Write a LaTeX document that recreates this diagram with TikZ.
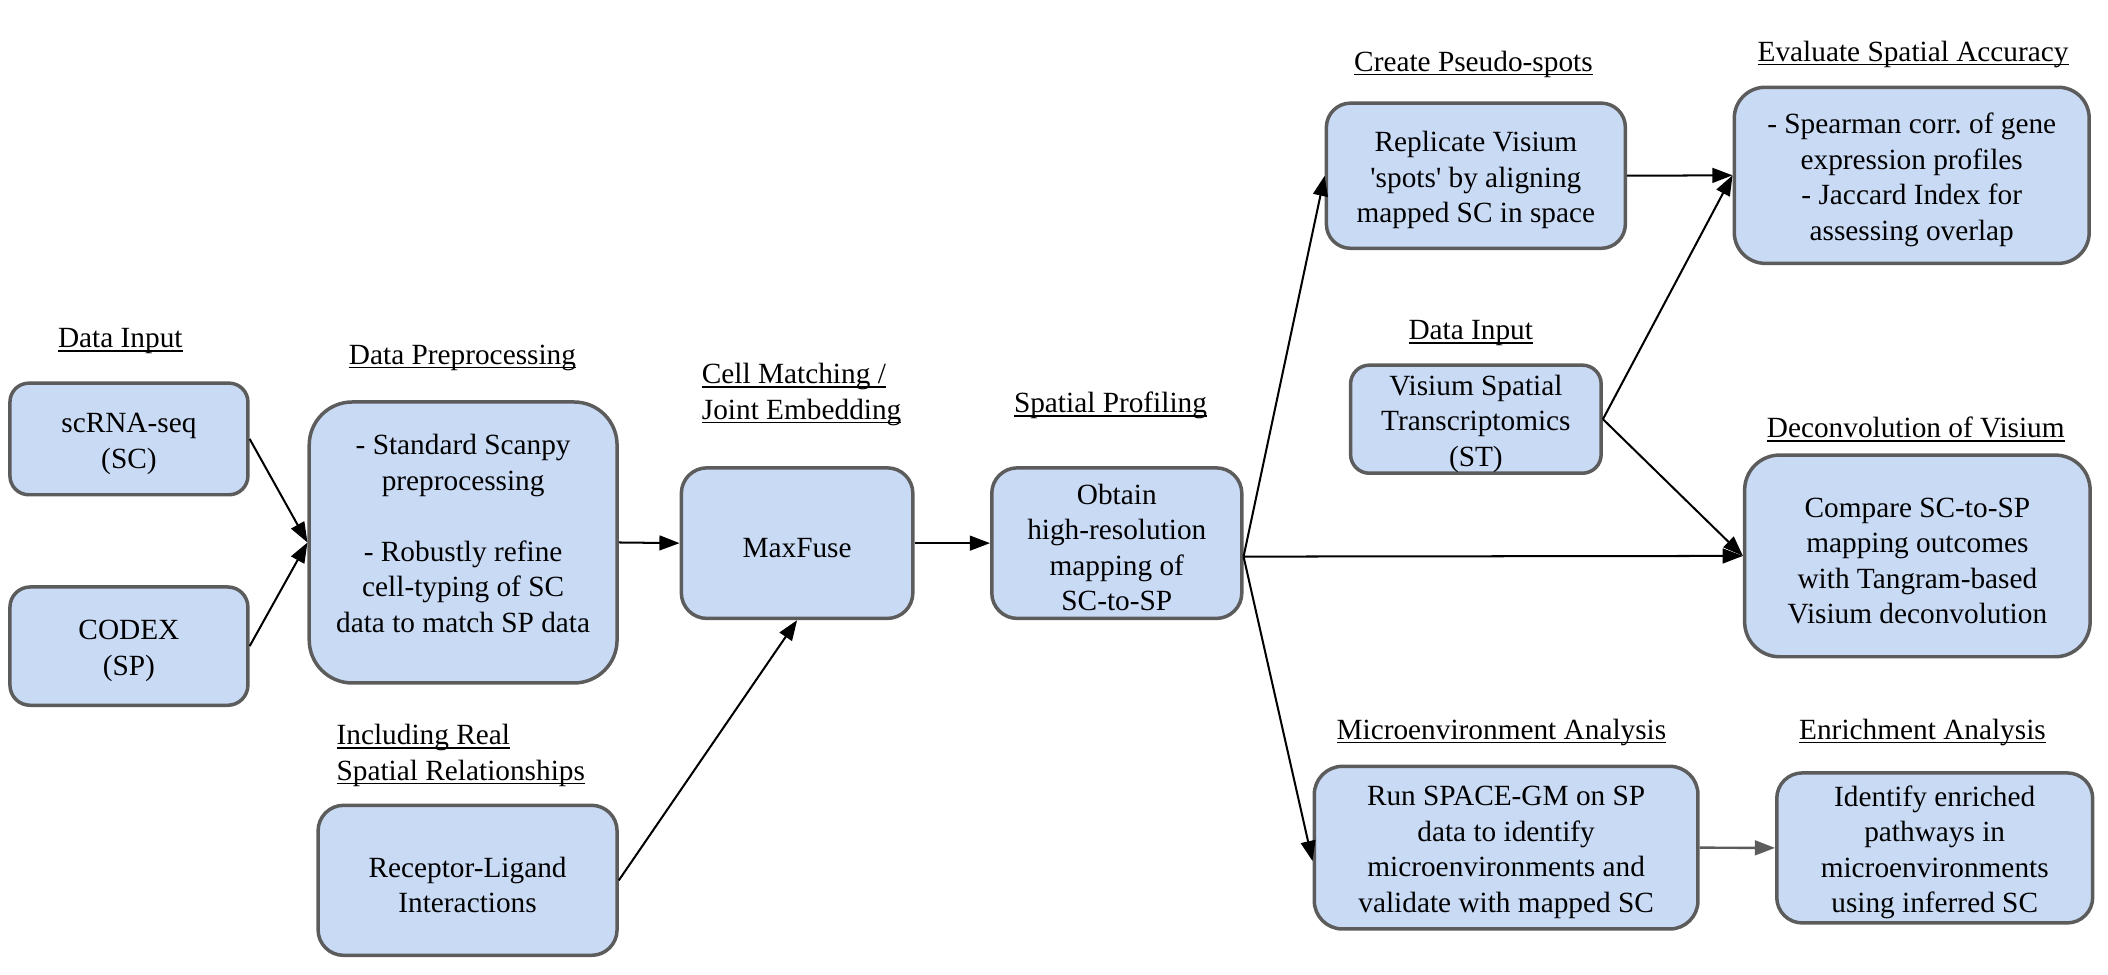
\documentclass[tikz,border=0pt]{standalone}
\usepackage{fontspec}
\setmainfont{Liberation Serif}
\usetikzlibrary{arrows.meta}
\definecolor{boxblue}{HTML}{C9DAF5}
\definecolor{edgegray}{HTML}{5C5C5C}
\newcommand\myul[1]{\setbox0\hbox{#1}\rlap{\rule[-1.5pt]{\wd0}{0.55pt}}\box0}
\newcommand\dfont{\fontsize{10.9}{13.2}\selectfont\frenchspacing}
\newcommand\tp{\rule{0pt}{10.9pt}}
\begin{document}
\begin{tikzpicture}[x=0.5pt,y=-0.5pt,
  box/.style={draw=edgegray, line width=1.3pt, fill=boxblue, align=center, font=\dfont, inner sep=0pt},
  lbl/.style={font=\dfont, inner sep=0pt, anchor=base},
  lbll/.style={font=\dfont, inner sep=0pt, align=left, anchor=north west},
  arr/.style={-{Triangle[length=7.5pt,width=5.5pt]}, line width=0.75pt, black},
  garr/.style={-{Triangle[length=7.5pt,width=5.5pt]}, line width=0.9pt, edgegray}]
\useasboundingbox (0,0) rectangle (1568,724.5);

% boxes
\node[box, minimum width=88.5pt, minimum height=41.5pt, rounded corners=7pt] (sc) at (95.9,326.5) {\tp scRNA-seq\\(SC)};
\node[box, minimum width=88.5pt, minimum height=44pt, rounded corners=7.5pt] (codex) at (95.9,480.6) {\tp CODEX\\(SP)};
\node[box, minimum width=114.5pt, minimum height=104.5pt, rounded corners=16pt] (pre) at (344.5,403.5) {\tp - Standard Scanpy\\preprocessing\\[13.2pt]- Robustly refine\\cell-typing of SC\\data to match SP data\rule[-10.3pt]{0pt}{1pt}};
\node[box, minimum width=111.2pt, minimum height=55.8pt, rounded corners=9.5pt] (rl) at (347.8,654.8) {\tp Receptor-Ligand\\Interactions};
\node[box, minimum width=86.1pt, minimum height=56pt, rounded corners=9.5pt] (mf) at (592.9,404) {\tp MaxFuse};
\node[box, minimum width=93pt, minimum height=56pt, rounded corners=9.5pt] (ob) at (830.7,404) {\tp Obtain\\high-resolution\\mapping of\\SC-to-SP};
\node[box, minimum width=111.2pt, minimum height=54pt, rounded corners=9pt] (rep) at (1097.8,130.7) {\tp Replicate Visium\\\textquotesingle spots\textquotesingle{} by aligning\\mapped SC in space};
\node[box, minimum width=132pt, minimum height=65.5pt, rounded corners=11.5pt] (sp) at (1422,130.4) {\tp - Spearman corr. of gene\\expression profiles\\- Jaccard Index for\\assessing overlap};
\node[box, minimum width=93.2pt, minimum height=40.2pt, rounded corners=7pt] (vis) at (1097.8,311.8) {\tp Visium Spatial\\Transcriptomics\\(ST)};
\node[box, minimum width=128.5pt, minimum height=75pt, rounded corners=13pt] (cmp) at (1426.2,413.5) {\tp Compare SC-to-SP\\mapping outcomes\\with Tangram-based\\Visium deconvolution};
\node[box, minimum width=142.7pt, minimum height=60.5pt, rounded corners=10.5pt] (sg) at (1120.3,630.5) {\tp Run SPACE-GM on SP\\data to identify\\microenvironments and\\validate with mapped SC};
\node[box, minimum width=117.5pt, minimum height=55.8pt, rounded corners=9.5pt] (en) at (1439.1,630.7) {\tp Identify enriched\\pathways in\\microenvironments\\using inferred SC};

% labels
\node[lbl] (l1) at (89.5,258.7) {\myul{Data Input}};
\node[lbl] (l2) at (344,271) {\myul{Data Preprocessing}};
\node[lbll] (l3) at (521.7,270) {\myul{Cell Matching /}\\\myul{Joint Embedding}};
\node[lbl] (l4) at (826,307) {\myul{Spatial Profiling}};
\node[lbll] (l5) at (250,538.5) {\myul{Including Real}\\\myul{Spatial Relationships}};
\node[lbl] (l6) at (1096,53) {\myul{Create Pseudo-spots}};
\node[lbl] (l7) at (1423,45.4) {\myul{Evaluate Spatial Accuracy}};
\node[lbl] (l8) at (1094,252.5) {\myul{Data Input}};
\node[lbl] (l9) at (1425,325.7) {\myul{Deconvolution of Visium}};
\node[lbl] (l10) at (1116.8,550) {\myul{Microenvironment Analysis}};
\node[lbl] (l11) at (1430,550) {\myul{Enrichment Analysis}};

% connectors
\draw[arr] (sc.east) -- (pre.west);
\draw[arr] (codex.east) -- (pre.west);
\draw[arr] (pre.east) -- (mf.west);
\draw[arr] (rl.east) -- (mf.south);
\draw[arr] (mf.east) -- (ob.west);
\coordinate (obo) at ([yshift=-5pt]ob.east);
\coordinate (sgi) at ([yshift=-5pt]sg.west);
\draw[arr] (obo) -- (rep.west);
\draw[arr] (obo) -- (cmp.west);
\draw[arr] (obo) -- (sgi);
\draw[arr] (rep.east) -- (sp.west);
\draw[arr] (vis.east) -- (sp.west);
\draw[arr] (vis.east) -- (cmp.west);
\draw[garr] (sg.east) -- (en.west);
\end{tikzpicture}
\end{document}
